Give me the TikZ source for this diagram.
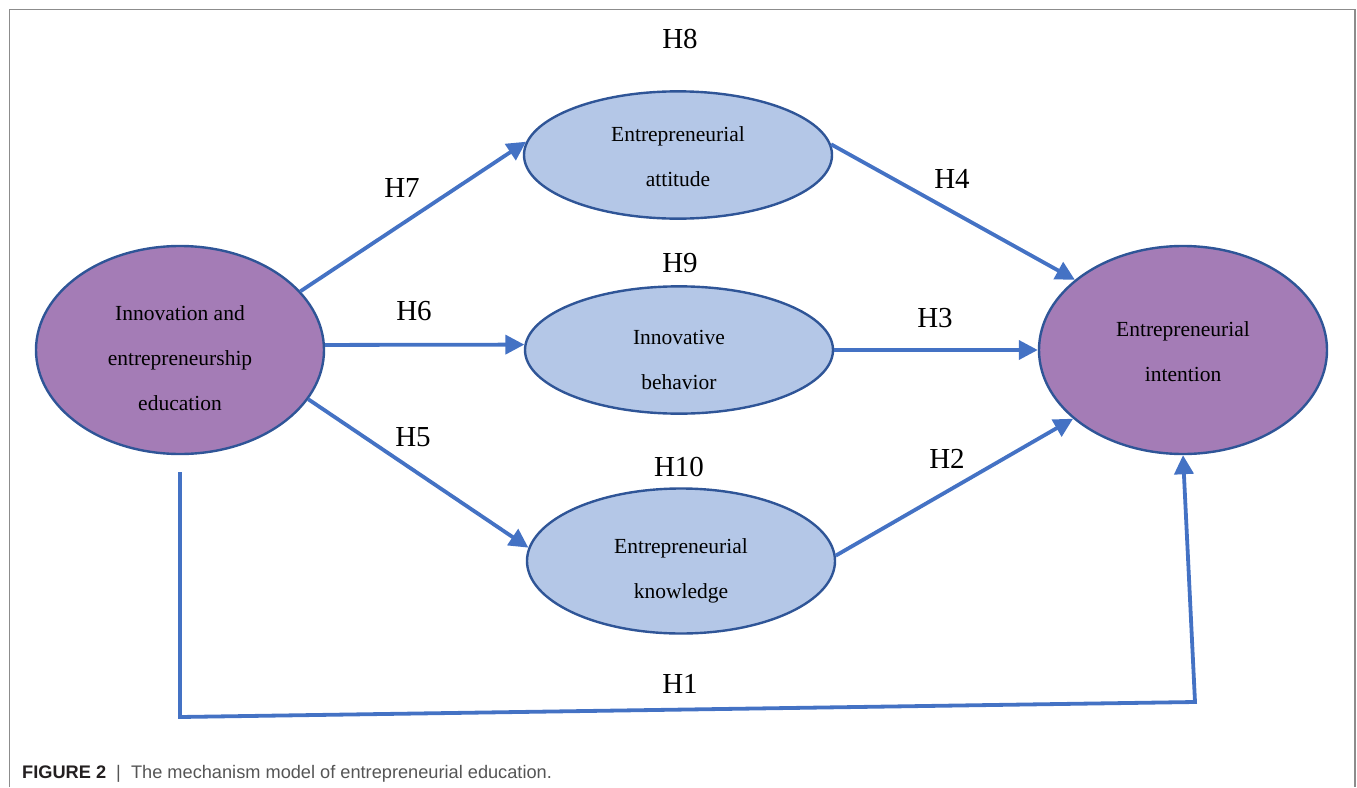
\documentclass[tikz,border=0pt]{standalone}
\usepackage{fontspec}
\setmainfont{Liberation Serif}
\newfontfamily\capfont{Liberation Sans}
\usetikzlibrary{shapes.geometric,arrows.meta}
\definecolor{purp}{HTML}{A47CB6}
\definecolor{lblue}{HTML}{B4C7E7}
\definecolor{edgeblue}{HTML}{2F5597}
\definecolor{arrblue}{HTML}{4472C4}
\definecolor{framegray}{HTML}{8C8C8C}
\definecolor{capdark}{HTML}{231F20}
\definecolor{capgray}{HTML}{555555}
\newcommand\elltext[2]{\raisebox{-#1}[\height][\depth]{\begin{tabular}{@{}c@{}}#2\end{tabular}}}
\tikzset{
  ell/.style={ellipse, draw=edgeblue, line width=2.4pt, inner sep=0pt,
    font=\fontsize{21.5}{45}\selectfont},
  bigell/.style={ell, fill=purp, minimum width=288pt, minimum height=208pt},
  smallell/.style={ell, fill=lblue, minimum width=308pt, minimum height=125pt},
  conn/.style={draw=arrblue, line width=3.8pt, -{Triangle[length=19pt,width=19pt]}},
  hlab/.style={anchor=base, font=\fontsize{29}{34}\selectfont, inner sep=0pt},
}
\begin{document}
\begin{tikzpicture}[x=1pt,y=-1pt]
\useasboundingbox (0,0) rectangle (1357,787);
% frame
\draw[framegray, line width=1.5pt] (9.5,787) -- (9.5,9.5) -- (1355,9.5) -- (1355,787);

% nodes
\node[bigell] (iee) at (180,350) {\elltext{6pt}{Innovation and\\entrepreneurship\\education}};
\node[bigell] (ei) at (1183,350) {\elltext{0pt}{Entrepreneurial\\intention}};
\node[smallell] (att) at (678,155) {\elltext{0pt}{Entrepreneurial\\attitude}};
\node[smallell] (beh) at (679,350) {\elltext{8pt}{Innovative\\behavior}};
\node[smallell, minimum height=145pt] (kno) at (681,561) {\elltext{5.5pt}{Entrepreneurial\\knowledge}};

% connectors
\draw[conn] (iee.26) -- (att.175);
\draw[conn] (iee.2) -- (beh.178);
\draw[conn] (iee.-21) -- (kno.175);
\draw[conn] (att.4) -- (ei.147);
\draw[conn] (beh.east) -- (ei.west);
\draw[conn] (kno.2) -- (ei.212);
\coordinate (h1a) at (178,717);
\coordinate (h1b) at (1195,702);
\draw[conn, line join=miter] ([yshift=-17pt]iee.south) -- (iee.south |- h1a) -- (h1b) -- (ei.south);

% labels
\node[hlab] (l8) at (680,48) {H8};
\node[hlab] (l7) at (402,197) {H7};
\node[hlab] (l4) at (952,188) {H4};
\node[hlab] (l9) at (680,272) {H9};
\node[hlab] (l6) at (414,320) {H6};
\node[hlab] (l3) at (935,327) {H3};
\node[hlab] (l5) at (413,446) {H5};
\node[hlab] (l10) at (679,476) {H10};
\node[hlab] (l2) at (947,468) {H2};
\node[hlab] (l1) at (680,693) {H1};

% caption
\node[anchor=base west, inner sep=0pt, font=\capfont\fontsize{18.2}{21}\selectfont] (cap) at (22,778)
  {\textcolor{capdark}{\textbf{FIGURE 2}}\textcolor{capgray}{\ \ |\ \ The mechanism model of entrepreneurial education.}};
\end{tikzpicture}
\end{document}
